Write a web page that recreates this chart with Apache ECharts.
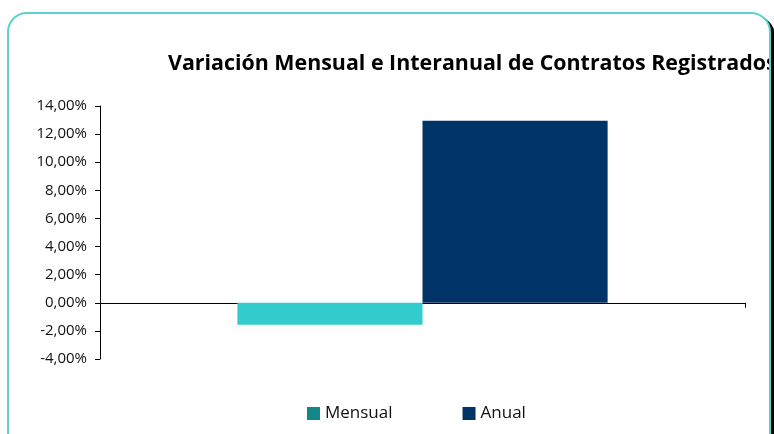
<!DOCTYPE html>
<html>
<head>
<meta charset="utf-8">
<script src="https://cdn.jsdelivr.net/npm/echarts@6/dist/echarts.min.js"></script>
<style>
  html, body { margin: 0; padding: 0; width: 774px; height: 434px; overflow: hidden; background: #fff; }
  #box {
    position: absolute; left: 7px; top: 12px; width: 760px; height: 460px;
    border: 2px solid #5fd0d2; border-radius: 20px; overflow: hidden;
    box-shadow: 4px 4px 0 #000; background: #fff;
  }
  #chart { position: absolute; left: -9px; top: -14px; width: 774px; height: 434px; }
</style>
</head>
<body>
<div id="box"><div id="chart"></div></div>
<script>
// datos
const categories = [''];
const seriesNames = ['Mensual', 'Anual'];
const mensual = [-1.57];
const anual = [12.95];
const yTicks = { min: -4, max: 14, step: 2 };

const chart = echarts.init(document.getElementById('chart'));

// formato "12,00%"
function fmt(v) {
  return v.toFixed(2).replace('.', ',') + '%';
}

const option = {
  animation: false,
  title: {
    text: 'Variación Mensual e Interanual de Contratos Registrados',
    left: 163,
    top: 48,
    textStyle: { fontFamily: 'Open Sans', fontWeight: 'bold', fontSize: 21.4, color: '#000' }
  },
  legend: {
    data: [
      { name: seriesNames[0], itemStyle: { color: '#138787' } },
      { name: seriesNames[1], itemStyle: { color: '#003366' } }
    ],
    left: 302,
    top: 400,
    itemWidth: 13,
    itemHeight: 13,
    itemGap: 70,
    icon: 'rect',
    textStyle: { fontFamily: 'Open Sans', fontSize: 17, color: '#111' }
  },
  grid: { left: 100, right: 29, top: 106, bottom: 75 },
  xAxis: {
    type: 'category',
    data: categories,
    axisLine: { lineStyle: { color: '#000', width: 1 } },
    axisTick: { show: true, length: 5, lineStyle: { color: '#000' } },
    axisLabel: { show: false }
  },
  yAxis: {
    type: 'value',
    min: yTicks.min,
    max: yTicks.max,
    interval: yTicks.step,
    axisLine: { show: true, lineStyle: { color: '#000' } },
    axisTick: { show: true, length: 5, lineStyle: { color: '#000' } },
    splitLine: { show: false },
    axisLabel: {
      formatter: fmt,
      margin: 13,
      fontFamily: 'Open Sans',
      fontSize: 15,
      color: '#111'
    }
  },
  series: [
    {
      name: seriesNames[0],
      type: 'bar',
      data: mensual,
      barGap: '0%',
      barCategoryGap: '42.6%',
      itemStyle: { color: '#33cccc' }
    },
    {
      name: seriesNames[1],
      type: 'bar',
      data: anual,
      barGap: '0%',
      barCategoryGap: '42.6%',
      itemStyle: { color: '#003366' }
    }
  ]
};

chart.setOption(option);
</script>
</body>
</html>
